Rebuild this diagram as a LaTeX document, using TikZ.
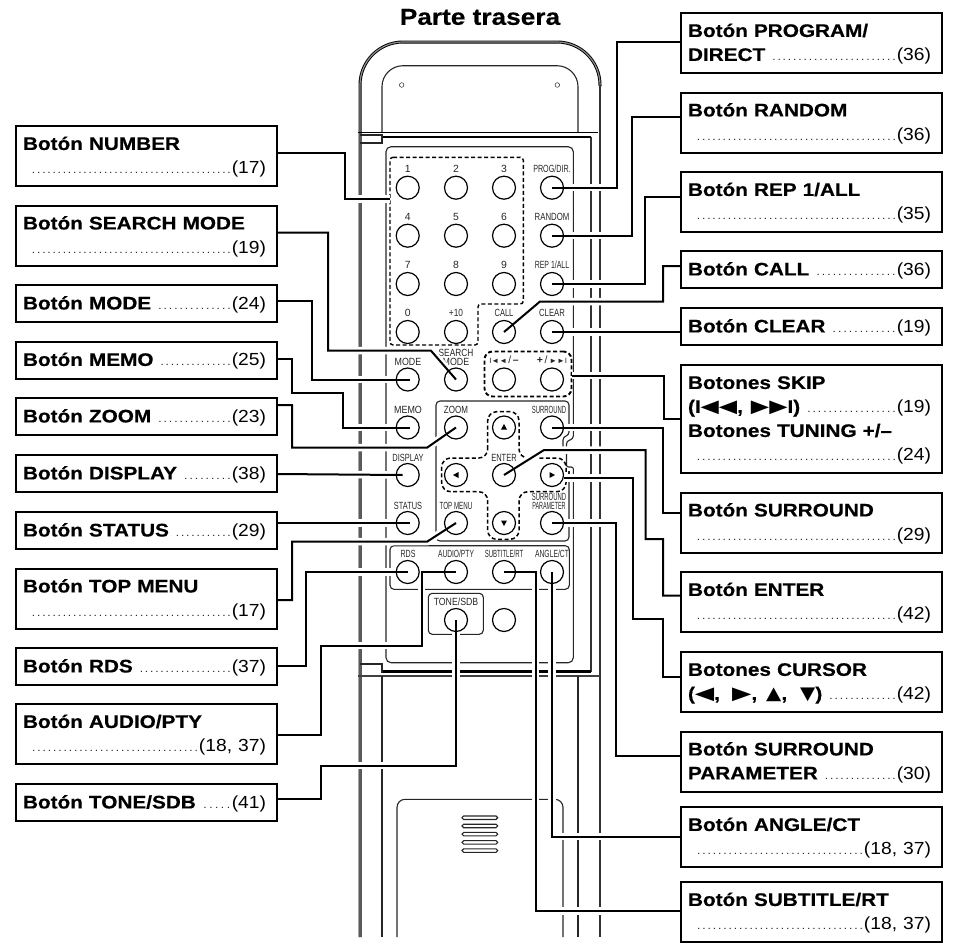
\documentclass[tikz,border=0pt]{standalone}
\usepackage{fontspec}
\setmainfont{Liberation Sans}[FakeStretch=1.1,BoldFeatures={FakeStretch=1.14,FakeBold=0.5}]
\newfontfamily\keyfont{Liberation Sans}
\newfontfamily\symfont{DejaVu Sans}
\pgfdeclarelayer{front}
\pgfsetlayers{main,front}
\newcommand{\pg}[1]{{\mdseries\ \xleaders\hbox to 5.1pt{\hss\textcolor{black!85}{\fontsize{11}{11}\selectfont.}\hss}\hfill\fontsize{17.5}{24}\selectfont #1\kern4pt}}
\newcommand{\kl}[2]{\scalebox{#1}[1]{#2}}
\newcommand{\tri}[2]{{\symfont\fontsize{18}{24}\selectfont\scalebox{#1}[1]{#2}}}
\tikzset{
  labelbox/.style={draw,line width=2pt,outer sep=0pt,minimum width=261pt,text width=247pt,inner xsep=7pt,inner ysep=0pt,align=left,font=\fontsize{18.2}{24}\selectfont\bfseries,execute at begin node=\rule{0pt}{15.5pt}},
  tallbox/.style={labelbox,minimum height=60pt},
  lowbox/.style={labelbox,minimum height=37pt},
  keybtn/.style={draw,circle,line width=1.2pt,minimum size=23pt,inner sep=0pt,outer sep=0pt},
  keylabel/.style={inner sep=0pt,text=black!85,font=\keyfont\fontsize{10.4}{10.4}\selectfont},
  leader/.style={draw,line width=2pt,preaction={draw=white,line width=7.5pt}},
  grouped/.style={draw,dashed,dash pattern=on 4pt off 2.5pt},
  thinline/.style={draw,line width=1.1pt,black!85},
  rim/.style={draw,line width=.9pt,double=black!45,double distance=1.2pt},
  heavy/.style={draw,line width=2.6pt,black!80}
}
\begin{document}
\begin{tikzpicture}[x=1pt,y=-1pt]
\useasboundingbox (0,0) rectangle (953,943);

\node[font=\fontsize{23}{24}\selectfont\bfseries] (title) at (480,17) {Parte trasera};

\draw[rim,rounded corners=43pt] (360,937)--(360,42)--(600,42)--(600,86);
\draw[heavy] (600,85)--(600,937);
\draw[heavy] (591,136.5)--(591,671.5);
\draw[thinline,rounded corners=21pt] (382,132.5)--(382,65.7)--(578,65.7)--(578,132.5);
\draw (401.7,85) circle (2.3pt);
\draw (557.3,85) circle (2.3pt);

\draw[line width=1.6pt] (358,132.5)--(598,132.5);
\draw[line width=2pt] (382,136.5)--(591,136.5);
\draw[thinline] (360,135)--(382,135)--(382,143)--(360,143);

\draw[line width=2.6pt] (382,671.5)--(591,671.5);
\draw[line width=1.2pt,black!75] (358,676)--(600,676);
\draw[thinline] (360,664)--(382,664)--(382,673);
\draw[thinline] (382,676)--(382,937);
\draw[thinline] (578,676)--(578,937);

\draw[thinline,rounded corners=8pt] (397,937)--(397,799.3)--(563,799.3)--(563,937);
\draw[thinline,rounded corners=1.7pt] (462,816)rectangle(497.7,819.5);
\draw[thinline,rounded corners=1.7pt] (462,824.2)rectangle(497.7,827.7);
\draw[thinline,rounded corners=1.7pt] (462,832.4)rectangle(497.7,835.9);
\draw[thinline,rounded corners=1.7pt] (462,840.6)rectangle(497.7,844.1);
\draw[thinline,rounded corners=1.7pt] (462,848.8)rectangle(497.7,852.3);

\draw[thinline,rounded corners=5pt] (386,146.7) rectangle (573.3,662.7);
\draw[thinline,rounded corners=4pt] (436,401) rectangle (569,541);
\draw[thinline,rounded corners=4pt] (390,545.7) rectangle (569.3,589.3);
\draw[thinline,rounded corners=4pt] (428.3,593.3) rectangle (483.3,634.3);

\fill[white] (560,431) rectangle (576,475);
\draw[thinline,rounded corners=3pt] (569,431)--(569,435)--(563,437)--(563,448);
\draw[thinline,rounded corners=3pt] (573.3,431)--(573.3,439)--(566.5,441)--(566.5,448);
\draw[thinline,rounded corners=2pt] (566.5,453)--(566.5,467)--(573.3,467)--(573.3,475);
\draw[thinline] (569,471)--(569,475);

\draw[grouped,line width=1.4pt,rounded corners=3pt] (390,157.3)--(523.3,157.3)--(523.3,304)--(478,304)--(478,345)--(390,345)--cycle;
\draw[grouped,line width=1.5pt,rounded corners=9pt] (487.7,458)--(487.7,411.7)--(519,411.7)--(519,458)--(566,458)--(566,491.7)--(519,491.7)--(519,539.3)--(487.7,539.3)--(487.7,491.7)--(441.7,491.7)--(441.7,458)--cycle;
\node[grouped,line width=1.9pt,rounded corners=8pt,minimum width=87pt,minimum height=45pt,outer sep=0pt] (grpSkip) at (528,374) {};
\coordinate (grpNumber) at (390,199);
\coordinate (grpCursor) at (564,478);

\fill (504,424) -- (507,429.5) -- (501,429.5) -- cycle;
\fill (504,526) -- (507,520.5) -- (501,520.5) -- cycle;
\fill (453,475) -- (458.5,472) -- (458.5,478) -- cycle;
\fill (555,475) -- (549.5,472) -- (549.5,478) -- cycle;

\node[keylabel] (lbl1) at (407.7,169) {1};
\node[keylabel] (lbl2) at (456,169) {2};
\node[keylabel] (lbl3) at (504,169) {3};
\node[keylabel] (lbl4) at (407.7,217) {4};
\node[keylabel] (lbl5) at (456,217) {5};
\node[keylabel] (lbl6) at (504,217) {6};
\node[keylabel] (lbl7) at (407.7,265) {7};
\node[keylabel] (lbl8) at (456,265) {8};
\node[keylabel] (lbl9) at (504,265) {9};
\node[keylabel] (lbl0) at (407.7,313) {0};
\node[keylabel] (lblTen) at (456,313) {\kl{.8}{+10}};
\node[keylabel] (lblCall) at (504,313) {\kl{.72}{CALL}};
\node[keylabel] (lblClear) at (552,313) {\kl{.74}{CLEAR}};
\node[keylabel] (lblProg) at (552,169) {\kl{.69}{PROG/DIR.}};
\node[keylabel] (lblRandom) at (552,217) {\kl{.75}{RANDOM}};
\node[keylabel] (lblRep) at (552,265) {\kl{.67}{REP 1/ALL}};
\node[keylabel] (lblMode) at (408,362) {\kl{.85}{MODE}};
\node[keylabel] (lblSearchA) at (456,353) {\kl{.8}{SEARCH}};
\node[keylabel] (lblSearchB) at (456,362) {\kl{.85}{MODE}};
\node[keylabel] (lblPrev) at (504,359.5) {\fontsize{7.5}{7.5}\selectfont\kl{1.05}{I◄◄}\,\fontsize{10.4}{10.4}\selectfont/\,\textbf{–}};
\node[keylabel] (lblNext) at (552,359.5) {\textbf{+}\,/\,\fontsize{7.5}{7.5}\selectfont\kl{1.05}{►►I}};
\node[keylabel] (lblMemo) at (408,410) {\kl{.86}{MEMO}};
\node[keylabel] (lblZoom) at (456,410) {\kl{.77}{ZOOM}};
\node[keylabel] (lblSurround) at (549,410) {\kl{.57}{SURROUND}};
\node[keylabel] (lblDisplay) at (408,458) {\kl{.72}{DISPLAY}};
\node[keylabel] (lblEnter) at (504,458) {\kl{.72}{ENTER}};
\node[keylabel] (lblStatus) at (408,506) {\kl{.71}{STATUS}};
\node[keylabel] (lblTop) at (456,506) {\kl{.6}{TOP MENU}};
\node[keylabel] (lblParamA) at (549,497) {\kl{.57}{SURROUND}};
\node[keylabel] (lblParamB) at (549,506) {\kl{.52}{PARAMETER}};
\node[keylabel] (lblRds) at (408,554) {\kl{.68}{RDS}};
\node[keylabel] (lblAudio) at (456,554) {\kl{.64}{AUDIO/PTY}};
\node[keylabel] (lblSubtitle) at (504,554) {\kl{.58}{SUBTITLE/RT}};
\node[keylabel] (lblAngle) at (552,554) {\kl{.65}{ANGLE/CT}};
\node[keylabel] (lblTone) at (456,602) {\kl{.84}{TONE/SDB}};

\begin{pgfonlayer}{front}
\node[keybtn] (btn1) at (407.7,187.7) {};
\node[keybtn] (btn2) at (456,187.7) {};
\node[keybtn] (btn3) at (504,187.7) {};
\node[keybtn] (btnProg) at (552,187.7) {};
\node[keybtn] (btn4) at (407.7,235.7) {};
\node[keybtn] (btn5) at (456,235.7) {};
\node[keybtn] (btn6) at (504,235.7) {};
\node[keybtn] (btnRandom) at (552,235.7) {};
\node[keybtn] (btn7) at (407.7,284) {};
\node[keybtn] (btn8) at (456,284) {};
\node[keybtn] (btn9) at (504,284) {};
\node[keybtn] (btnRep) at (552,284) {};
\node[keybtn] (btn0) at (407.7,332) {};
\node[keybtn] (btnTen) at (456,332) {};
\node[keybtn] (btnCall) at (504,332) {};
\node[keybtn] (btnClear) at (552,332) {};
\node[keybtn] (btnMode) at (407.7,379.5) {};
\node[keybtn] (btnSearch) at (456,379.5) {};
\node[keybtn] (btnPrev) at (504,379.5) {};
\node[keybtn] (btnNext) at (552,379.5) {};
\node[keybtn] (btnMemo) at (407.7,427.5) {};
\node[keybtn] (btnZoom) at (456,427.5) {};
\node[keybtn] (btnUp) at (504,427.5) {};
\node[keybtn] (btnSurround) at (552,427.5) {};
\node[keybtn] (btnDisplay) at (407.7,475) {};
\node[keybtn] (btnLeft) at (456,475) {};
\node[keybtn] (btnEnter) at (504,475) {};
\node[keybtn] (btnRight) at (552,475) {};
\node[keybtn] (btnStatus) at (407.7,523) {};
\node[keybtn] (btnTop) at (456,523) {};
\node[keybtn] (btnDown) at (504,523) {};
\node[keybtn] (btnParam) at (552,523) {};
\node[keybtn] (btnRds) at (407.7,572) {};
\node[keybtn] (btnAudio) at (456,572) {};
\node[keybtn] (btnSubtitle) at (504,572) {};
\node[keybtn] (btnAngle) at (552,572) {};
\node[keybtn] (btnTone) at (456,620) {};
\node[keybtn] (btnPlain) at (504,620) {};

\node[tallbox] (boxNumber) at (146.5,156) {Botón NUMBER\\\hspace*{2pt}\pg{(17)}};
\node[tallbox] (boxSearch) at (146.5,235.5) {Botón SEARCH MODE\\\hspace*{2pt}\pg{(19)}};
\node[lowbox] (boxMode) at (146.5,303.5) {Botón MODE\pg{(24)}};
\node[lowbox] (boxMemo) at (146.5,360) {Botón MEMO\pg{(25)}};
\node[lowbox] (boxZoom) at (146.5,416.5) {Botón ZOOM\pg{(23)}};
\node[lowbox] (boxDisplay) at (146.5,473.5) {Botón DISPLAY\pg{(38)}};
\node[lowbox] (boxStatus) at (146.5,530.5) {Botón STATUS\pg{(29)}};
\node[tallbox] (boxTop) at (146.5,598.5) {Botón TOP MENU\\\hspace*{2pt}\pg{(17)}};
\node[lowbox] (boxRds) at (146.5,666.5) {Botón RDS\pg{(37)}};
\node[tallbox] (boxAudio) at (146.5,734) {Botón AUDIO/PTY\\\hspace*{2pt}\pg{(18, 37)}};
\node[lowbox] (boxTone) at (146.5,802.5) {Botón TONE/SDB\pg{(41)}};

\node[tallbox] (boxProg) at (811.5,43) {Botón PROGRAM/\\DIRECT\pg{(36)}};
\node[tallbox] (boxRandom) at (811.5,122.5) {Botón RANDOM\\\hspace*{2pt}\pg{(36)}};
\node[tallbox] (boxRep) at (811.5,202) {Botón REP 1/ALL\\\hspace*{2pt}\pg{(35)}};
\node[lowbox] (boxCall) at (811.5,269.5) {Botón CALL\pg{(36)}};
\node[lowbox] (boxClear) at (811.5,326.5) {Botón CLEAR\pg{(19)}};
\node[labelbox,minimum height=108pt] (boxSkip) at (811.5,419) {Botones SKIP\\(I\tri{1.32}{◀◀},\hspace{8pt}\tri{1.32}{▶▶}I)\pg{(19)}\\Botones TUNING +/–\\\hspace*{2pt}\pg{(24)}};
\node[tallbox] (boxSurround) at (811.5,522.5) {Botón SURROUND\\\hspace*{2pt}\pg{(29)}};
\node[tallbox] (boxEnter) at (811.5,602) {Botón ENTER\\\hspace*{2pt}\pg{(42)}};
\node[tallbox] (boxCursor) at (811.5,682) {Botones CURSOR\\(\tri{1.4}{◀},\hspace{12pt}\tri{1.4}{▶},\hspace{9pt}\tri{1.1}{▲},\hspace{13pt}\tri{1.1}{▼})\pg{(42)}};
\node[tallbox] (boxParam) at (811.5,761.5) {Botón SURROUND\\PARAMETER\pg{(30)}};
\node[tallbox] (boxAngle) at (811.5,837) {Botón ANGLE/CT\\\hspace*{2pt}\pg{(18, 37)}};
\node[tallbox] (boxSubtitle) at (811.5,912) {Botón SUBTITLE/RT\\\hspace*{2pt}\pg{(18, 37)}};
\end{pgfonlayer}

\draw[leader] (boxNumber.east|-0,153)--(345,153)--(345,199)--(grpNumber);
\draw[leader] (boxSearch.east|-0,232.7)--(328,232.7)--(328,350.7)--(431,350.7)--(btnSearch.center);
\draw[leader] (boxMode.east|-0,300.7)--(312,300.7)--(312,379.5)--([xshift=2pt]btnMode.center);
\draw[leader] (boxMemo.east|-0,358.7)--(292,358.7)--(292,393)--(343,393)--(343,427.5)--([xshift=2pt]btnMemo.center);
\draw[leader] (boxZoom.east|-0,405)--(292,405)--(292,447.7)--(427,447.7)--(btnZoom.center);
\draw[leader] (boxDisplay.east|-0,474)--([xshift=-5pt]btnDisplay.center);
\draw[leader] (boxStatus.east|-0,523)--([xshift=2pt]btnStatus.center);
\draw[leader] (boxTop.east|-0,600)--(292,600)--(292,541.7)--(427,541.7)--(btnTop.center);
\draw[leader] (boxRds.east|-0,665.7)--(305.7,665.7)--(305.7,572)--(btnRds.center);
\draw[leader] (boxAudio.east|-0,735)--(321,735)--(321,645.7)--(421.7,645.7)--(421.7,572)--(btnAudio.center);
\draw[leader] (boxTone.east|-0,799)--(321,799)--(321,765.5)--(456,765.5)--(btnTone.center);

\draw[leader] (boxProg.west|-0,41.7)--(616.7,41.7)--(616.7,187.7)--(btnProg.center);
\draw[leader] (boxRandom.west|-0,117)--(631.7,117)--(631.7,235.7)--(btnRandom.center);
\draw[leader] (boxRep.west|-0,196.7)--(645,196.7)--(645,284)--(btnRep.center);
\draw[leader] (boxCall.west|-0,266)--(663,266)--(663,301.5)--(540,301.5)--(btnCall.center);
\draw[leader] (boxClear.west|-0,332)--(btnClear.center);
\draw[leader] (boxSkip.west|-0,419)--(664,419)--(664,375.5)--(grpSkip.east|-0,375.5);
\draw[leader] (boxSurround.west|-0,513.3)--(663,513.3)--(663,427.5)--(btnSurround.center);
\draw[leader] (boxEnter.west|-0,595.7)--(663,595.7)--(663,539)--(645.7,539)--(645.7,450)--(544,450)--(btnEnter.center);
\draw[leader] (boxCursor.west|-0,677.3)--(663,677.3)--(663,618.5)--(632.7,618.5)--(632.7,478)--(grpCursor);
\draw[leader] (boxParam.west|-0,756)--(616,756)--(616,523)--(btnParam.center);
\draw[leader] (boxAngle.west|-0,836.5)--(552,836.5)--(btnAngle.center);
\draw[leader] (boxSubtitle.west|-0,911)--(535.7,911)--(535.7,572)--(btnSubtitle.center);
\end{tikzpicture}
\end{document}
